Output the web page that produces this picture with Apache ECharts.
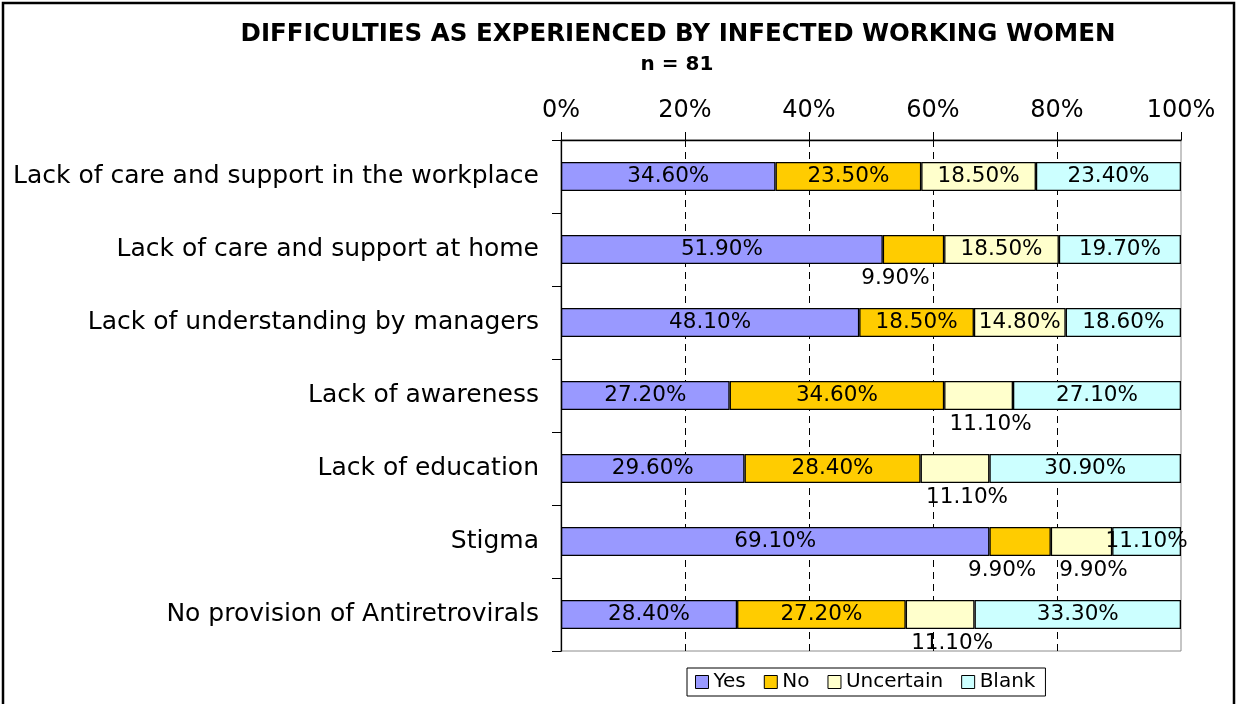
<!DOCTYPE html>
<html>
<head>
<meta charset="utf-8">
<title>Difficulties as experienced by infected working women</title>
<script src="https://cdn.jsdelivr.net/npm/echarts@6/dist/echarts.min.js"></script>
<style>
  html, body {margin: 0; padding: 0; background: #fff;}
  #myChart {width: 1237px; height: 704px;}
</style>
</head>
<body>
<div id="myChart"></div>
<script>
  // categories top to bottom
  var categories = [
    'Lack of care and support in the workplace',
    'Lack of care and support at home',
    'Lack of understanding by managers',
    'Lack of awareness',
    'Lack of education',
    'Stigma',
    'No provision of Antiretrovirals'
  ];
  var yesData       = [34.6, 51.9, 48.1, 27.2, 29.6, 69.1, 28.4];
  var noData        = [23.5, 9.9, 18.5, 34.6, 28.4, 9.9, 27.2];
  var uncertainData = [18.5, 18.5, 14.8, 11.1, 11.1, 9.9, 11.1];
  var blankData     = [23.4, 19.7, 18.6, 27.1, 30.9, 11.1, 33.3];
  var tickValues    = [0, 20, 40, 60, 80, 100];

  var font = 'DejaVu Sans';

  // small segments get their label under the bar (like the excel original)
  function build(values, belowShift) {
    return values.map(function (v) {
      if (belowShift !== null && v < 12) {
        return {value: v, label: {position: 'bottom', distance: 3, offset: [belowShift, 0]}};
      }
      return v;
    });
  }

  function makeSeries(name, values, color, belowShift) {
    return {
      name: name,
      type: 'bar',
      stack: 'total',
      barWidth: 29,
      data: build(values, belowShift),
      itemStyle: {color: color, borderColor: '#000', borderWidth: 1.3},
      label: {
        show: true,
        position: 'inside',
        color: '#000',
        fontFamily: font,
        fontSize: 21.5,
        formatter: function (p) { return p.value.toFixed(2) + '%'; }
      }
    };
  }

  var myChart = echarts.init(document.getElementById('myChart'));

  var option = {
    backgroundColor: '#fff',
    animation: false,
    title: [
      {
        text: 'DIFFICULTIES AS EXPERIENCED BY INFECTED WORKING WOMEN',
        left: 673, top: 17, textAlign: 'center',
        textStyle: {fontFamily: font, fontWeight: 'bold', fontSize: 24.5, color: '#000'}
      },
      {
        text: 'n = 81',
        left: 672, top: 50, textAlign: 'center',
        textStyle: {fontFamily: font, fontWeight: 'bold', fontSize: 20, color: '#000'}
      }
    ],
    // outer frame of the chart object
    graphic: [{
      type: 'rect',
      shape: {x: 3, y: 3, width: 1231, height: 740},
      style: {fill: null, stroke: '#000', lineWidth: 2.5},
      silent: true
    }],
    legend: {
      data: ['Yes', 'No', 'Uncertain', 'Blank'],
      left: 687, top: 668,
      orient: 'horizontal',
      icon: 'rect',
      itemWidth: 13, itemHeight: 13, itemGap: 18,
      padding: [4, 10, 4, 8],
      borderColor: '#000', borderWidth: 1,
      itemStyle: {borderColor: '#000', borderWidth: 1},
      textStyle: {fontFamily: font, fontSize: 20, color: '#000'}
    },
    grid: {
      left: 561, right: 56, top: 140, bottom: 53,
      show: true, borderColor: '#8c8c8c', borderWidth: 1,
      containLabel: false
    },
    xAxis: {
      type: 'value',
      position: 'top',
      min: tickValues[0],
      max: tickValues[tickValues.length - 1],
      interval: 20,
      axisLine: {show: true, lineStyle: {color: '#000', width: 1.3}},
      axisTick: {show: true, length: 8, lineStyle: {color: '#000'}},
      axisLabel: {
        margin: 17,
        fontFamily: font, fontSize: 24, color: '#000',
        formatter: '{value}%'
      },
      splitLine: {
        show: true, showMinLine: false, showMaxLine: false,
        lineStyle: {color: '#000', type: [7, 5], width: 1}
      }
    },
    yAxis: {
      type: 'category',
      inverse: true,
      data: categories,
      axisLine: {show: true, lineStyle: {color: '#000', width: 1.3}},
      axisTick: {show: true, length: 9, lineStyle: {color: '#000'}},
      axisLabel: {margin: 22, fontFamily: font, fontSize: 25, color: '#000'}
    },
    series: [
      makeSeries('Yes', yesData, '#9999FF', null),
      makeSeries('No', noData, '#FFCC00', -18),
      makeSeries('Uncertain', uncertainData, '#FFFFCC', 12),
      makeSeries('Blank', blankData, '#CCFFFF', null)
    ]
  };

  myChart.setOption(option);
</script>
</body>
</html>
